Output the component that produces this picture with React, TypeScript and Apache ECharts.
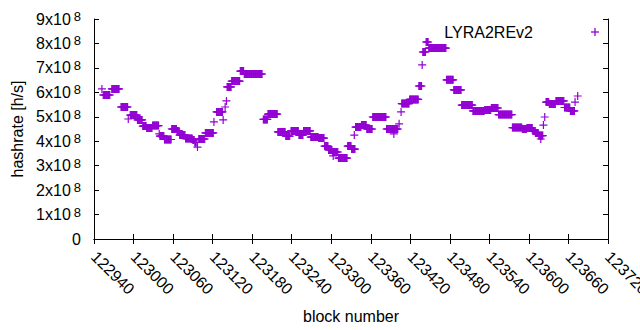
import React, { useEffect, useRef } from "react";
import * as echarts from "echarts";

// x axis (block number)
const X_MIN = 122940;
const X_MAX = 123720;
const X_STEP = 60;
// y axis (hashrate)
const Y_MAX = 9e8;
const Y_STEP = 1e8;

// Runs of equal hashrate: first block, last block, value (x10^8 h/s)
const runStart = [
  122952, 122954, 122967, 122981, 122992, 122995, 123006, 123014, 123020, 123029,
  123039, 123040, 123047, 123058, 123066, 123070, 123079, 123090, 123093, 123097,
  123099, 123109, 123122, 123126, 123136, 123139, 123141, 123142, 123149, 123162,
  123168, 123197, 123204, 123219, 123231, 123239, 123251, 123258, 123269, 123281,
  123290, 123296, 123302, 123303, 123311, 123325, 123331, 123335, 123337, 123346,
  123354, 123363, 123384, 123395, 123403, 123406, 123407, 123419, 123433, 123438,
  123439, 123444, 123448, 123475, 123486, 123498, 123515, 123533, 123543, 123554,
  123575, 123590, 123597, 123606, 123610, 123615, 123618, 123622, 123624, 123626,
  123631, 123641, 123654, 123663, 123670, 123674,
];
const runEnd = [
  122952, 122964, 122978, 122991, 122992, 123005, 123013, 123019, 123028, 123038,
  123039, 123046, 123057, 123065, 123069, 123078, 123089, 123092, 123095, 123097,
  123108, 123121, 123122, 123135, 123136, 123139, 123141, 123148, 123161, 123167,
  123195, 123203, 123218, 123230, 123237, 123250, 123257, 123268, 123280, 123289,
  123295, 123301, 123310, 123303, 123324, 123330, 123336, 123335, 123345, 123353,
  123362, 123383, 123401, 123395, 123403, 123406, 123418, 123432, 123437, 123438,
  123443, 123447, 123474, 123485, 123497, 123514, 123532, 123542, 123553, 123574,
  123589, 123596, 123605, 123609, 123614, 123621, 123618, 123622, 123624, 123630,
  123640, 123653, 123662, 123669, 123670, 123674,
];
const runValue = [
  6.14, 5.89, 6.14, 5.40, 4.91, 5.07, 4.87, 4.62, 4.54, 4.64,
  4.30, 4.21, 4.07, 4.50, 4.42, 4.25, 4.11, 4.05, 3.95, 3.76,
  4.09, 4.34, 4.79, 5.20, 4.87, 5.40, 5.65, 6.22, 6.46, 6.87,
  6.75, 4.89, 5.11, 4.38, 4.21, 4.42, 4.25, 4.42, 4.17, 4.13,
  3.80, 3.64, 3.56, 3.40, 3.31, 3.80, 3.68, 4.25, 4.58, 4.66,
  4.50, 4.99, 4.50, 4.30, 4.71, 5.20, 5.54, 5.71, 6.26, 7.12,
  7.65, 8.06, 7.81, 6.51, 6.10, 5.48, 5.24, 5.28, 5.36, 5.09,
  4.56, 4.50, 4.54, 4.42, 4.34, 4.23, 4.09, 4.66, 4.99, 5.60,
  5.52, 5.65, 5.38, 5.24, 5.60, 5.85,
];

const SERIES_NAME = "LYRA2REv2";
const COLOR = "#9400d3";
const FONT = "Liberation Sans, Arial, sans-serif";

function buildPoints(): number[][] {
  const pts: number[][] = [];
  for (let i = 0; i < runStart.length; i++) {
    for (let b = runStart[i]; b <= runEnd[i]; b++) {
      pts.push([b, runValue[i] * 1e8]);
    }
  }
  return pts;
}

const PLUS = "path://M0,8.5H20V11.5H0ZM8.5,0H11.5V20H8.5Z";

export default function App() {
  const ref = useRef<HTMLDivElement>(null);
  useEffect(() => {
    if (!ref.current) return;
    document.body.style.margin = "0";
    const chart = echarts.init(ref.current, undefined, { renderer: "svg" });
    const axisLine = { show: true, lineStyle: { color: "#000", width: 1 } };
    const tick = { show: true, inside: true, length: 5, lineStyle: { color: "#000" } };
    chart.setOption({
      animation: false,
      backgroundColor: "#fff",
      textStyle: { fontFamily: FONT },
      grid: {
        left: 94,
        right: 32,
        top: 19,
        bottom: 91,
        containLabel: false,
        outerBoundsMode: "none",
      },
      xAxis: [
        {
          type: "value",
          min: X_MIN,
          max: X_MAX,
          interval: X_STEP,
          position: "bottom",
          name: "block number",
          nameLocation: "middle",
          nameGap: 69,
          nameTextStyle: { fontFamily: FONT, fontSize: 16, color: "#000" },
          axisLine,
          axisTick: tick,
          splitLine: { show: false },
          axisLabel: {
            rotate: -45,
            margin: 15,
            fontFamily: FONT,
            fontSize: 16,
            color: "#000",
            showMinLabel: true,
            showMaxLabel: true,
            formatter: (v: number) => String(v),
          },
        },
        {
          type: "value",
          min: X_MIN,
          max: X_MAX,
          interval: X_STEP,
          position: "top",
          axisLine,
          axisTick: tick,
          axisLabel: { show: false },
          splitLine: { show: false },
        },
      ],
      yAxis: [
        {
          type: "value",
          min: 0,
          max: Y_MAX,
          interval: Y_STEP,
          position: "left",
          name: "hashrate [h/s]",
          nameLocation: "middle",
          nameGap: 69,
          nameTextStyle: { fontFamily: FONT, fontSize: 16, color: "#000" },
          axisLine,
          axisTick: tick,
          splitLine: { show: false },
          axisLabel: {
            margin: 13,
            color: "#000",
            formatter: (v: number) =>
              v === 0 ? "{m|0}" : `{m|${Math.round(v / 1e8)}x10}{s|8}`,
            rich: {
              m: { fontFamily: FONT, fontSize: 16, color: "#000", lineHeight: 18 },
              s: {
                fontFamily: FONT,
                fontSize: 13,
                color: "#000",
                lineHeight: 18,
                padding: [0, 0, 5, 3],
              },
            },
          },
        },
        {
          type: "value",
          min: 0,
          max: Y_MAX,
          interval: Y_STEP,
          position: "right",
          axisLine,
          axisTick: tick,
          axisLabel: { show: false },
          splitLine: { show: false },
        },
      ],
      graphic: [
        {
          type: "text",
          x: 533,
          y: 32,
          style: {
            text: SERIES_NAME,
            fontFamily: FONT,
            fontSize: 16,
            fill: "#000",
            align: "right",
            verticalAlign: "middle",
          },
        },
        {
          type: "line",
          shape: { x1: 591, y1: 32, x2: 599, y2: 32 },
          style: { stroke: COLOR, lineWidth: 1.3 },
        },
        {
          type: "line",
          shape: { x1: 595, y1: 28, x2: 595, y2: 36 },
          style: { stroke: COLOR, lineWidth: 1.3 },
        },
      ],
      series: [
        {
          name: SERIES_NAME,
          type: "scatter",
          xAxisIndex: 0,
          yAxisIndex: 0,
          symbol: PLUS,
          symbolSize: 8,
          itemStyle: { color: COLOR, opacity: 1 },
          emphasis: { disabled: true },
          data: buildPoints(),
        },
      ],
    });
    return () => chart.dispose();
  }, []);
  return <div ref={ref} style={{ width: 640, height: 330 }} />;
}
